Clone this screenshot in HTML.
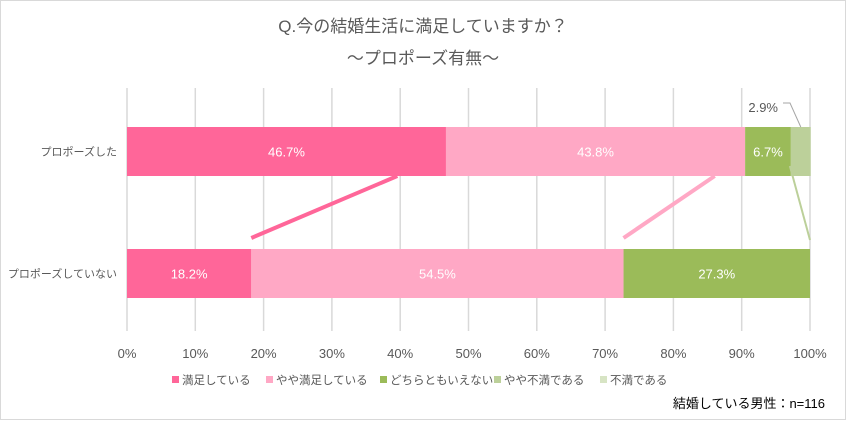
<!DOCTYPE html>
<html><head><meta charset="utf-8"><style>
body{margin:0;background:#fff;}
svg text{font-family:"Liberation Sans","Noto Sans CJK JP",sans-serif;}
</style></head><body>
<svg width="846" height="420" viewBox="0 0 846 420">
<rect x="0.5" y="0.5" width="845" height="419" fill="#fff" stroke="#d9d9d9"/>
<text x="423" y="32" text-anchor="middle" font-size="17" fill="#595959">Q.今の結婚生活に満足していますか？</text>
<text x="423" y="64" text-anchor="middle" font-size="17" fill="#595959">～プロポーズ有無～</text>
<g id="grid"></g><g id="bars"></g><g id="lines"></g><g id="labels"></g><g id="legend"></g>
<text x="825" y="408" text-anchor="end" font-size="13" fill="#000">結婚している男性：n=116</text>
</svg>
<script>
const categories=["プロポーズした","プロポーズしていない"];
const seriesNames=["満足している","やや満足している","どちらともいえない","やや不満である","不満である"];
const row1=[46.7,43.8,6.7,2.9,0];
const row2=[18.2,54.5,27.3,0,0];
const ticks=[0,10,20,30,40,50,60,70,80,90,100];
const colors=["#ff6699","#ffa8c5","#9bbb59","#bcd09a","#d7e4c4"];
const NS="http://www.w3.org/2000/svg";
const x0=127,x1=810;
const xs=v=>x0+(x1-x0)*v/100;
const rowsY=[127,249],bh=49;
function mk(t,a,p){const e=document.createElementNS(NS,t);for(const k in a)e.setAttribute(k,a[k]);document.getElementById(p).appendChild(e);return e;}
ticks.forEach(t=>{
 const l=mk("line",{x1:xs(t),x2:xs(t),y1:88,y2:331,stroke:"#d9d9d9","stroke-width":1.5},"grid");
 
 
 const tx=mk("text",{x:xs(t),y:358,"text-anchor":"middle","font-size":13,fill:"#595959"},"grid");
 tx.textContent=t+"%";
 
 
});
const rows=[row1,row2];
const cums=rows.map(r=>{let c=0;return r.map(v=>(c+=v));});
rows.forEach((r,ri)=>{
 const cl=mk("text",{x:117,y:rowsY[ri]+bh/2+4,"text-anchor":"end","font-size":11,fill:"#595959"},"labels");
 cl.textContent=categories[ri];
 
 
 let c=0;
 r.forEach((v,si)=>{
  if(v<=0){return;}
  const b=mk("rect",{x:xs(c),y:rowsY[ri],width:xs(c+v)-xs(c),height:bh,fill:colors[si]},"bars");
  
  
  const mid=(xs(c)+xs(c+v))/2;
  if(v>=5){
   const t=mk("text",{x:mid,y:rowsY[ri]+bh/2+5,"text-anchor":"middle","font-size":13,fill:"#fff"},"labels");
   t.textContent=v.toFixed(1)+"%";
   
   
  } else {
   const t=mk("text",{x:778,y:112,"text-anchor":"end","font-size":13,fill:"#595959"},"labels");
   t.textContent=v.toFixed(1)+"%";
   
   
   const p=mk("polyline",{points:`783,103 790,103 ${mid},${rowsY[ri]}`,fill:"none",stroke:"#a6a6a6","stroke-width":1},"labels");
   
   
  }
  c+=v;
 });
});
const lineStyles=[[colors[0],4],[colors[1],4],[colors[3],2]];
for(let si=0;si<3;si++){
 const a=xs(cums[1][si]),b=xs(cums[0][si]);
 let l;
 if(si<2) l=mk("line",{x1:a,y1:238,x2:a+(b-a)*0.75,y2:176,stroke:lineStyles[si][0],"stroke-width":lineStyles[si][1]},"lines");
 else l=mk("line",{x1:b-1,y1:166,x2:a,y2:240,stroke:lineStyles[si][0],"stroke-width":lineStyles[si][1]},"lines");
 
 
}
const lx=[172,266,380,494,600];
seriesNames.forEach((n,i)=>{
 const r=mk("rect",{x:lx[i],y:376,width:7,height:7,fill:colors[i]},"legend");
 
 
 const t=mk("text",{x:lx[i]+10,y:384,"font-size":11.5,fill:"#595959"},"legend");
 t.textContent=n;
 
 
});
</script>
</body></html>
